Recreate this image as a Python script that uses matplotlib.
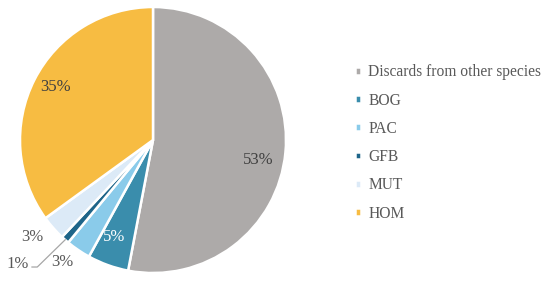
import numpy as np
import matplotlib.pyplot as plt

# Data
species = ["Discards from other species", "BOG", "PAC", "GFB", "MUT", "HOM"]
shares = [53, 5, 3, 1, 3, 35]
pct_labels = ["53%", "5%", "3%", "1%", "3%", "35%"]
colors = ["#ADAAA9", "#3A8DAC", "#8ACBEA", "#1E6589", "#DCEAF7", "#F7BC42"]

# label placement (x, y in pie units, radius = 1)
label_pos = [(0.79, -0.15), (-0.29, -0.73), (-0.68, -0.92), (-1.02, -0.93), (-0.91, -0.73), (-0.73, 0.40)]
label_col = ["#404040", "white", "#595959", "#595959", "#595959", "#404040"]

plt.rcParams["font.family"] = ["Liberation Serif", "DejaVu Serif"]

fig = plt.figure(figsize=(5.5, 2.81), dpi=100)
cx, cy, r = 153, 140, 133
ax = fig.add_axes([(cx - r) / 550, (281 - cy - r) / 281, 2 * r / 550, 2 * r / 281])

wedges, _ = ax.pie(
    shares,
    colors=colors,
    startangle=90,
    counterclock=False,
    wedgeprops=dict(edgecolor="white", linewidth=1.8),
)
ax.set_xlim(-1, 1)
ax.set_ylim(-1, 1)
ax.set_aspect("equal")

for txt, (x, y), c in zip(pct_labels, label_pos, label_col):
    ax.text(x, y, txt, ha="center", va="center", fontsize=12, color=c)

# leader line for the 1% slice
ax.plot([-0.66, -0.87, -0.91], [-0.75, -0.955, -0.955], color="#A6A6A6", lw=0.9,
        clip_on=False)

leg = fig.legend(
    wedges, species,
    loc="upper left", bbox_to_anchor=(349 / 550, 1 - 58 / 281),
    frameon=False, fontsize=11.2, labelcolor="#595959",
    handlelength=0.4, handleheight=0.4, handletextpad=0.45,
    labelspacing=0.79, borderaxespad=0,
)

fig.savefig("out.png", dpi=100)
